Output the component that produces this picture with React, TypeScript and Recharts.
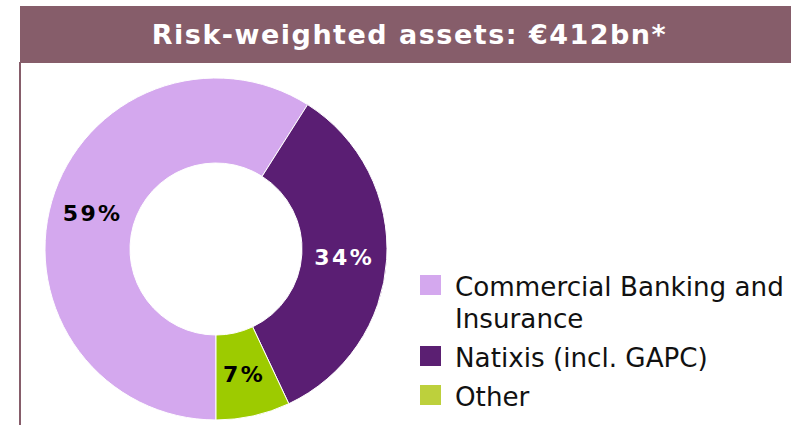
import React from 'react';
import { PieChart, Pie, Cell, Legend } from 'recharts';

const categories = ['Commercial Banking and Insurance', 'Natixis (incl. GAPC)', 'Other'];
const shares = [59, 34, 7];
const sliceColors = ['#d4a8ee', '#5a1e73', '#9dcb00'];
const legendColors = ['#d4a8ee', '#5b1f72', '#bdd03c'];
const labelColors = ['#000000', '#ffffff', '#000000'];
const title = 'Risk-weighted assets: €412bn*';

const data = categories.map((name, i) => ({ name, value: shares[i] }));

const RAD = Math.PI / 180;

const renderLabel = (props: any) => {
  const { cx, cy, midAngle, innerRadius, outerRadius, index } = props;
  const r = (innerRadius + outerRadius) / 2;
  const x = cx + r * Math.cos(-midAngle * RAD);
  const y = cy + r * Math.sin(-midAngle * RAD);
  return (
    <text
      x={x}
      y={y}
      fill={labelColors[index]}
      textAnchor="middle"
      dominantBaseline="central"
      fontFamily="DejaVu Sans, Verdana, sans-serif"
      fontWeight="bold"
      fontSize={22}
      letterSpacing={2.4}
    >
      {`${shares[index]}%`}
    </text>
  );
};

const renderLegend = () => (
  <div style={{ fontFamily: 'DejaVu Sans, Verdana, sans-serif', fontSize: 26.2, lineHeight: '32px', color: '#111' }}>
    {categories.map((name, i) => (
      <div key={name} style={{ display: 'flex', alignItems: 'flex-start', marginTop: i === 0 ? 0 : 7 }}>
        <div style={{ width: 21, height: 20, background: legendColors[i], marginTop: 4, marginRight: 14, flexShrink: 0 }} />
        <div style={{ width: 336, whiteSpace: 'normal' }}>{name}</div>
      </div>
    ))}
  </div>
);

export default function App() {
  return (
    <div style={{ position: 'absolute', left: 0, top: 0, width: 791, height: 425, background: '#fff', overflow: 'hidden' }}>
      <div
        style={{
          position: 'absolute',
          left: 20,
          top: 6,
          width: 771,
          height: 57,
          boxSizing: 'border-box',
          paddingLeft: 8,
          background: '#865d6a',
          color: '#fff',
          fontFamily: 'DejaVu Sans, Verdana, sans-serif',
          fontWeight: 'bold',
          fontSize: 27,
          letterSpacing: 1.5,
          display: 'flex',
          alignItems: 'center',
          justifyContent: 'center',
        }}
      >
        {title}
      </div>
      <div style={{ position: 'absolute', left: 19, top: 62, width: 2, height: 363, background: '#865d6a' }} />
      <div style={{ position: 'absolute', left: 0, top: 0 }}>
        <PieChart width={791} height={425} margin={{ top: 0, right: 0, bottom: 0, left: 0 }}>
          <Pie
            data={data}
            dataKey="value"
            nameKey="name"
            cx={216}
            cy={249}
            innerRadius={86}
            outerRadius={171}
            startAngle={-90}
            endAngle={-450}
            stroke="#ffffff"
            strokeWidth={1}
            label={renderLabel}
            labelLine={false}
            isAnimationActive={false}
          >
            {data.map((d, i) => (
              <Cell key={d.name} fill={sliceColors[i]} />
            ))}
          </Pie>
          <Legend
            content={renderLegend}
            layout="vertical"
            wrapperStyle={{ position: 'absolute', left: 420, top: 271, width: 371, bottom: 'auto', right: 'auto' }}
          />
        </PieChart>
      </div>
    </div>
  );
}
